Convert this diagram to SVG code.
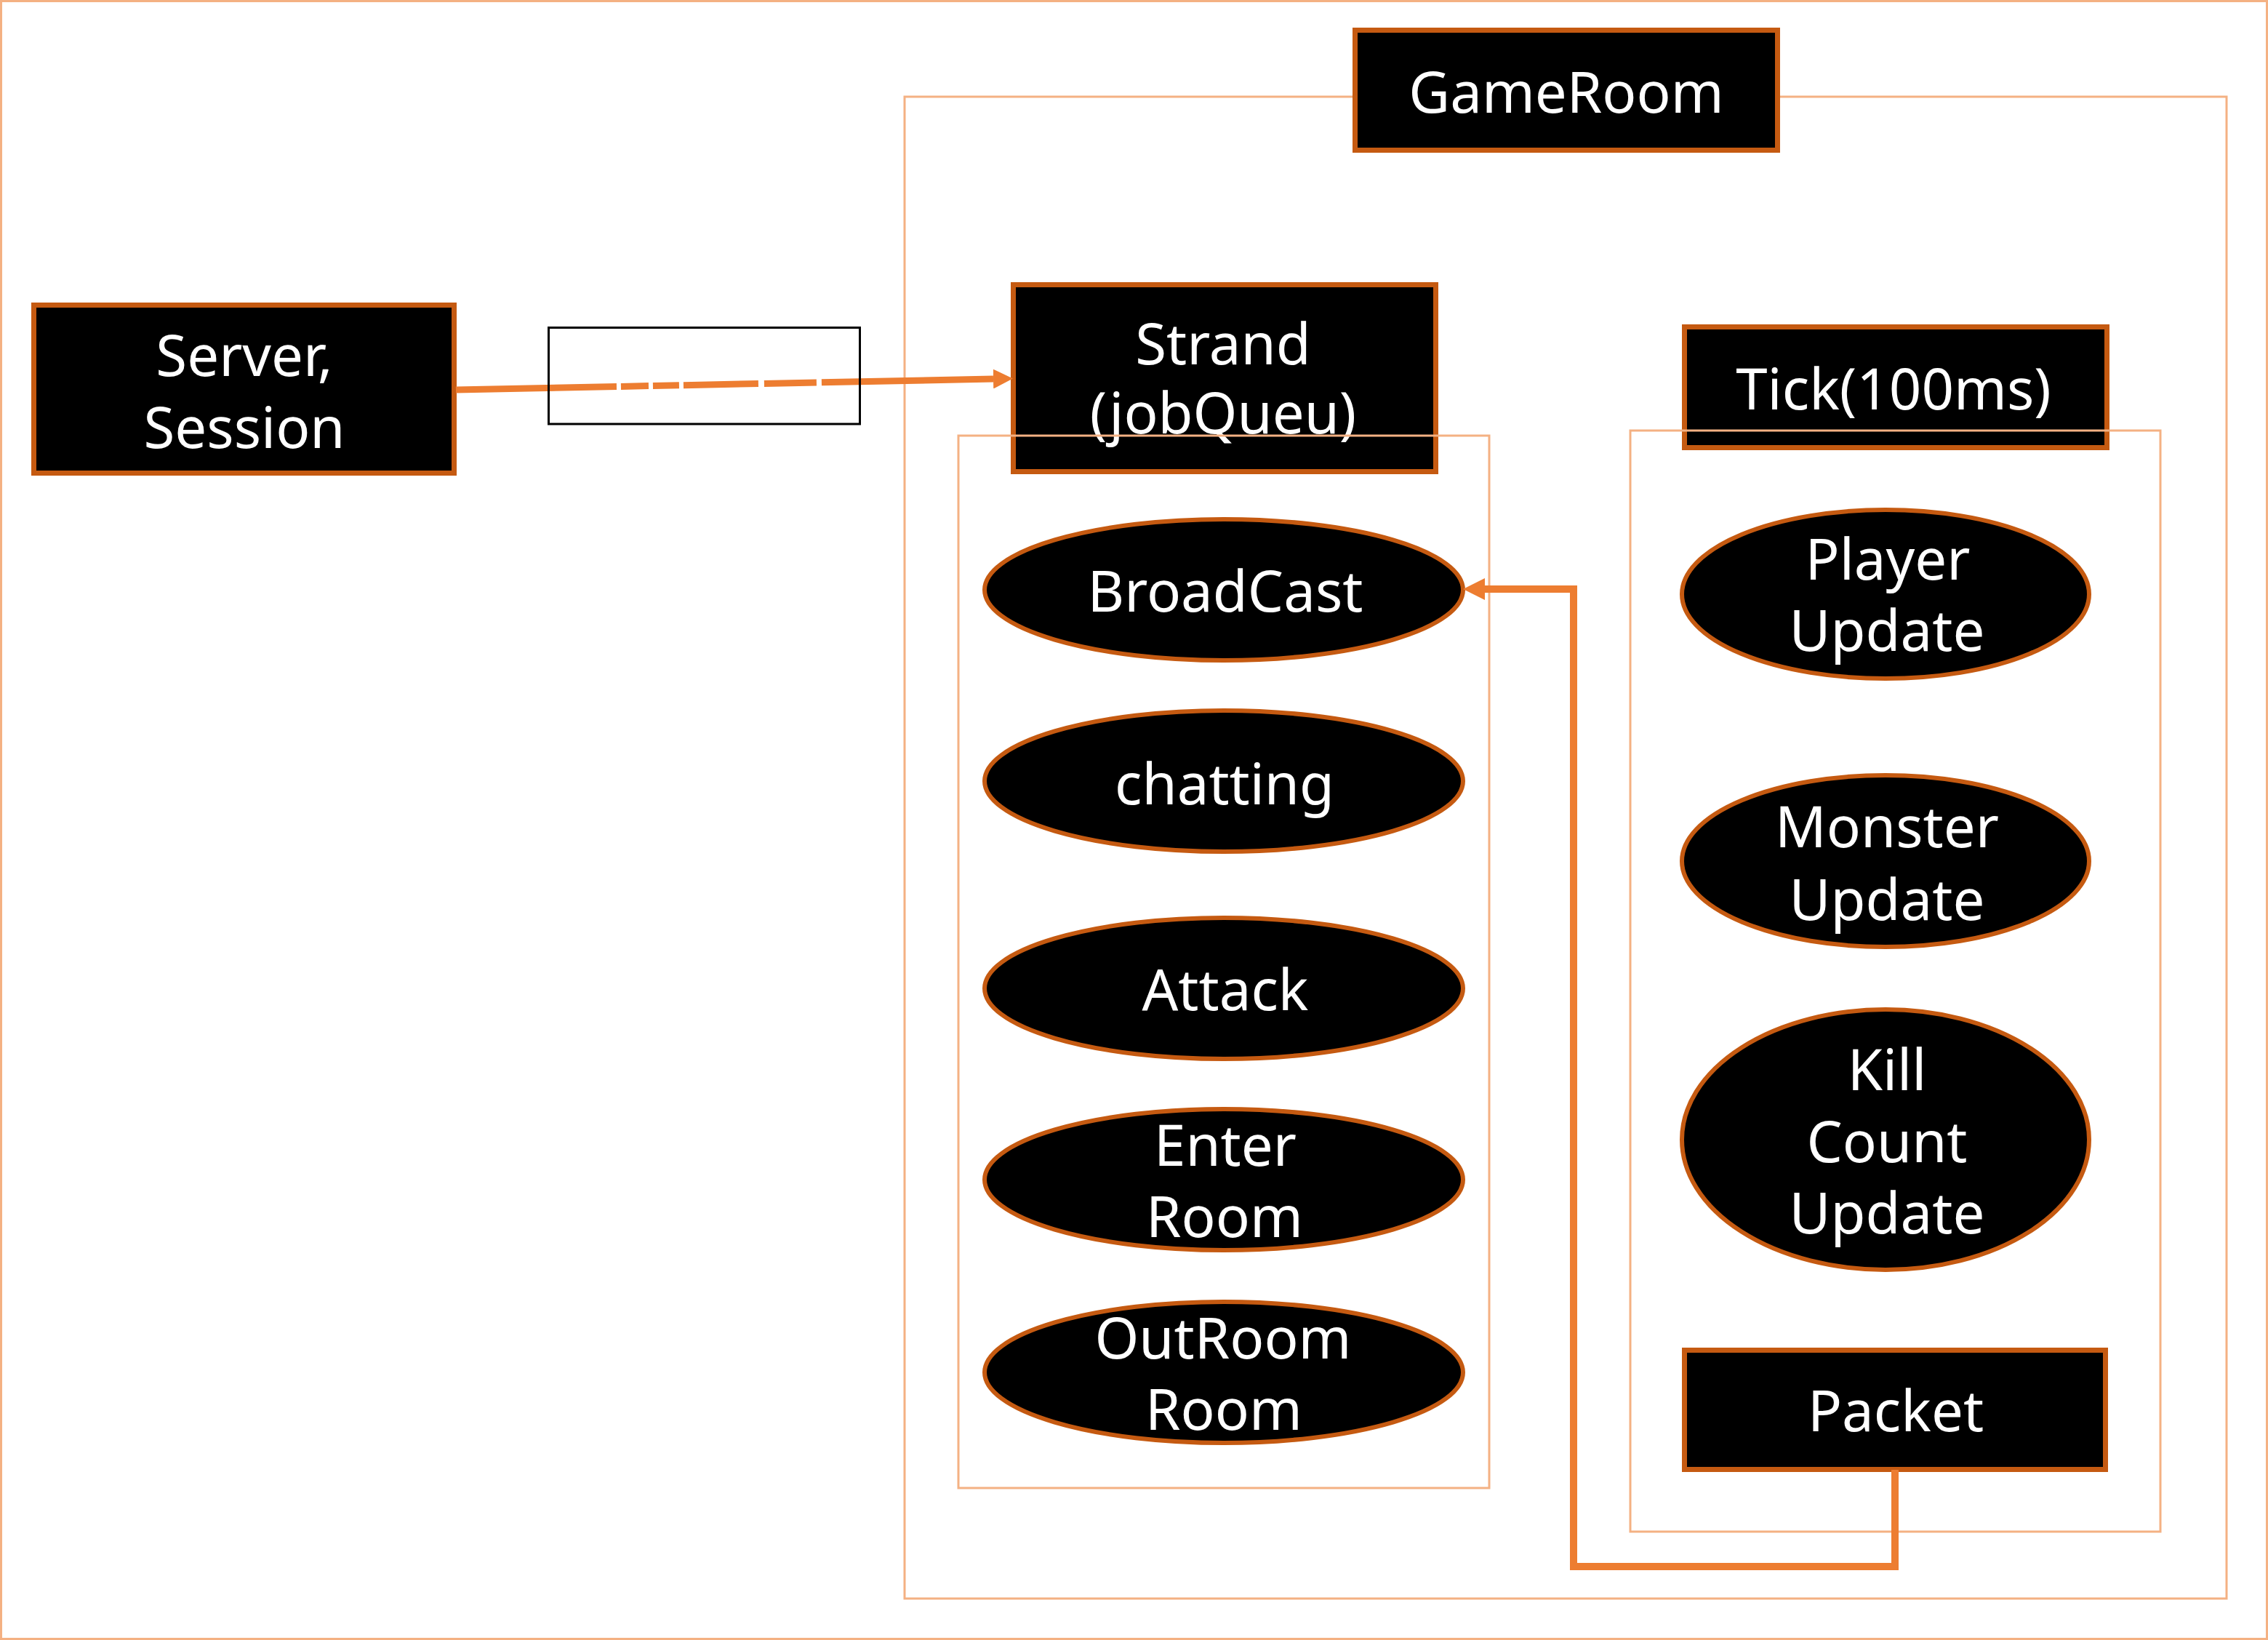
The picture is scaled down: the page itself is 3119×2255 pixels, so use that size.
<svg xmlns="http://www.w3.org/2000/svg" width="3119" height="2255" viewBox="0 0 3119 2255">
<style>
.frame{fill:none;stroke:#F4B183;stroke-width:3}
.box{fill:#000;stroke:#C55A11;stroke-width:7}
.ell{fill:#000;stroke:#C55A11;stroke-width:6}
.t{fill:#fff;font-family:"Segoe UI","Noto Sans","Open Sans",sans-serif;font-size:78px;text-anchor:middle}
.conn{fill:none;stroke:#ED7D31;stroke-linejoin:miter}
</style>
<defs>
<marker id="arr" viewBox="0 0 3 3" markerWidth="3" markerHeight="3" refX="0" refY="1.5" orient="auto" markerUnits="strokeWidth">
<path d="M0,0 L3,1.5 L0,3 z" fill="#ED7D31"/>
</marker>
</defs>
<rect class="frame" x="1.5" y="1.5" width="3116" height="2252"/>
<rect id="gameroom-container" class="frame" x="1244" y="133" width="1818" height="2065"/>
<g id="gameroom">
<rect class="box" x="1863.5" y="41.5" width="581" height="165"/>
<text class="t" x="2154" y="155">GameRoom</text>
</g>
<g id="server-session">
<rect class="box" x="46.5" y="419.5" width="578" height="231"/>
<text class="t" x="336" y="517">Server,</text>
<text class="t" x="336" y="616">Session</text>
</g>
<g id="strand">
<rect class="box" x="1393.5" y="391.5" width="581" height="257"/>
<text class="t" x="1682" y="501">Strand</text>
<text class="t" x="1682" y="596">(jobQueu)</text>
</g>
<g id="tick">
<rect class="box" x="2316.5" y="449.5" width="581" height="166"/>
<text class="t" x="2604" y="563">Tick(100ms)</text>
</g>
<rect id="strand-container" class="frame" x="1318" y="599" width="730" height="1447"/>
<rect id="tick-container" class="frame" x="2242" y="592" width="729" height="1514"/>
<g id="broadcast">
<ellipse class="ell" cx="1683" cy="811" rx="329" ry="97"/>
<text class="t" x="1685" y="841">BroadCast</text>
</g>
<g id="chatting">
<ellipse class="ell" cx="1683" cy="1074" rx="329" ry="97"/>
<text class="t" x="1684" y="1106">chatting</text>
</g>
<g id="attack">
<ellipse class="ell" cx="1683" cy="1359" rx="329" ry="97"/>
<text class="t" x="1685" y="1389">Attack</text>
</g>
<g id="enter-room">
<ellipse class="ell" cx="1683" cy="1622" rx="329" ry="97"/>
<text class="t" x="1685" y="1603">Enter</text>
<text class="t" x="1684" y="1701">Room</text>
</g>
<g id="outroom-room">
<ellipse class="ell" cx="1683" cy="1887" rx="329" ry="97"/>
<text class="t" x="1682" y="1868">OutRoom</text>
<text class="t" x="1683" y="1966">Room</text>
</g>
<g id="player-update">
<ellipse class="ell" cx="2593" cy="817" rx="280" ry="116"/>
<text class="t" x="2596" y="797">Player</text>
<text class="t" x="2595" y="895">Update</text>
</g>
<g id="monster-update">
<ellipse class="ell" cx="2593" cy="1184" rx="280" ry="118"/>
<text class="t" x="2595" y="1165">Monster</text>
<text class="t" x="2595" y="1265">Update</text>
</g>
<g id="kill-count-update">
<ellipse class="ell" cx="2593" cy="1567" rx="280" ry="179"/>
<text class="t" x="2595" y="1499">Kill</text>
<text class="t" x="2595" y="1598">Count</text>
<text class="t" x="2595" y="1696">Update</text>
</g>
<g id="packet">
<rect class="box" x="2316.5" y="1856.5" width="579" height="164"/>
<text class="t" x="2607" y="1968">Packet</text>
</g>
<g id="connectors">
<path class="conn" stroke-width="9" stroke-dasharray="221 6 38 6 36 6 103 8 72 7 400" d="M627,536 L1366,521" marker-end="url(#arr)"/>
<path class="conn" stroke-width="10" d="M2606,2021 V2154 H2164 V810 H2042" marker-end="url(#arr)"/>
</g>
<rect id="blank-box" x="754.5" y="450.5" width="428" height="132.5" fill="none" stroke="#000" stroke-width="3"/>
</svg>
